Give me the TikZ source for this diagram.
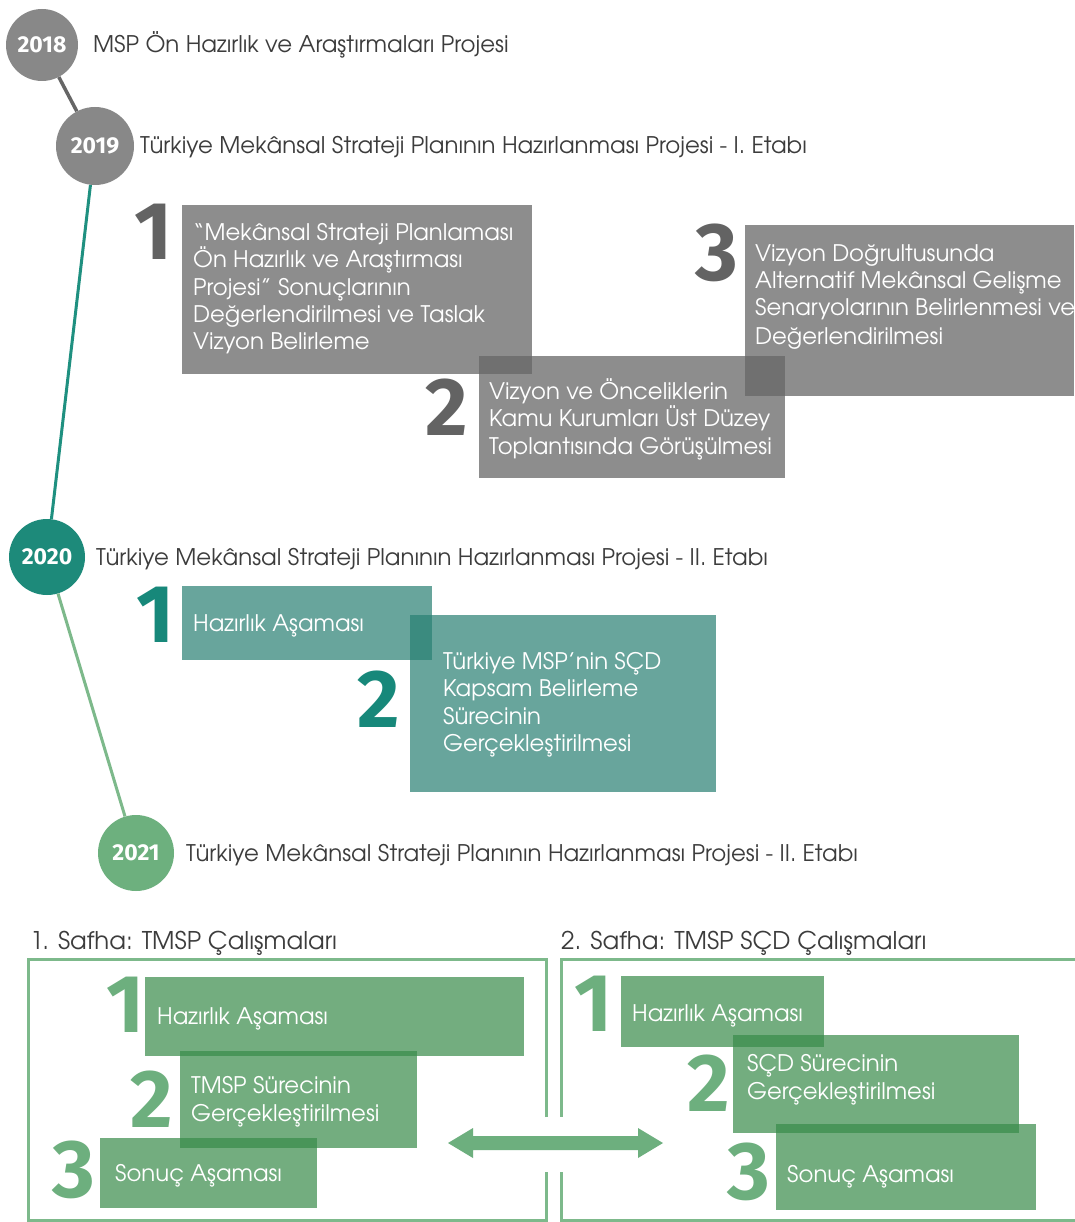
\documentclass[tikz,border=0pt]{standalone}
\usepackage{fontspec}
\setmainfont{TeX Gyre Adventor}
\newfontfamily\numfont{Fira Sans}
\definecolor{headc}{HTML}{3C3C3C}
\definecolor{circgray}{HTML}{888888}
\definecolor{circteal}{HTML}{1D8A7A}
\definecolor{circgreen}{HTML}{6DB07E}
\definecolor{linegray}{HTML}{666666}
\definecolor{lineteal}{HTML}{1F9080}
\definecolor{linegreen}{HTML}{7DB98B}
\definecolor{boxgray}{HTML}{666666}
\definecolor{boxteal}{HTML}{298073}
\definecolor{boxgreen}{HTML}{388B4A}
\definecolor{numgray}{HTML}{636363}
\definecolor{numteal}{HTML}{17887A}
\definecolor{numgreen}{HTML}{6DAF7E}
\definecolor{panelc}{HTML}{7DB98B}
\begin{document}
\begin{tikzpicture}[x=1pt,y=-1pt,
  yearnode/.style={circle, inner sep=0pt, minimum size=76pt, text=white,
    font=\numfont\bfseries\fontsize{23}{23}\selectfont},
  hd/.style={anchor=base west, inner sep=0pt, text=headc, font=\fontsize{22.9}{27}\selectfont},
  ttl/.style={anchor=base west, inner sep=0pt, text=headc, font=\fontsize{24.4}{28}\selectfont},
  bt/.style={anchor=base west, inner sep=0pt, text=white, font=\fontsize{22.8}{27}\selectfont},
  bignum/.style={anchor=north west, inner sep=0pt, font=\numfont\bfseries\fontsize{82}{82}\selectfont},
  gbox/.style={fill=boxgray, fill opacity=0.74},
  tbox/.style={fill=boxteal, fill opacity=0.7},
  grbox/.style={fill=boxgreen, fill opacity=0.7},
  panel/.style={draw=panelc, line width=3pt}
]
\useasboundingbox (0,0) rectangle (1074,1222);
\fill[white] (0,0) rectangle (1074,1222);

% ---------- timeline ----------
\node[yearnode, fill=circgray, minimum size=72pt] (y2018) at (42,45) {2018};
\node[yearnode, fill=circgray, minimum size=78pt] (y2019) at (95,146) {2019};
\node[yearnode, fill=circteal] (y2020) at (47,557) {2020};
\node[yearnode, fill=circgreen] (y2021) at (136,853) {2021};
\draw[linegray, line width=3.5pt] (y2018) -- (y2019);
\draw[lineteal, line width=3pt] (y2019) -- (y2020);
\draw[linegreen, line width=3pt] (y2020) -- (y2021);

\node[hd] (h2018) at (93,53) {MSP Ön Hazırlık ve Araştırmaları Projesi};
\node[hd] (h2019) at (140,154) {Türkiye Mekânsal Strateji Planının Hazırlanması Projesi - I. Etabı};
\node[hd] (h2020) at (96,565) {Türkiye Mekânsal Strateji Planının Hazırlanması Projesi - II. Etabı};
\node[hd] (h2021) at (186,861) {Türkiye Mekânsal Strateji Planının Hazırlanması Projesi - II. Etabı};

% ---------- 2019 boxes ----------
\fill[gbox] (182,205) rectangle (532,374);
\fill[gbox] (479,356) rectangle (785,478);
\fill[gbox] (745,225) rectangle (1074,396);
\node[bignum, text=numgray] (g1) at (134,204) {1};
\node[bignum, text=numgray] (g2) at (425,379) {2};
\node[bignum, text=numgray] (g3) at (695,224) {3};
\node[bt] (a1) at (193,241) {“Mekânsal Strateji Planlaması};
\node[bt] (a2) at (193,268) {Ön Hazırlık ve Araştırması};
\node[bt] (a3) at (193,295) {Projesi” Sonuçlarının};
\node[bt] (a4) at (193,322) {Değerlendirilmesi ve Taslak};
\node[bt] (a5) at (193,349) {Vizyon Belirleme};
\node[bt] (b1) at (489,399) {Vizyon ve Önceliklerin};
\node[bt] (b2) at (489,426) {Kamu Kurumları Üst Düzey};
\node[bt] (b3) at (489,454) {Toplantısında Görüşülmesi};
\node[bt] (c1) at (755,262) {Vizyon Doğrultusunda};
\node[bt] (c2) at (755,289) {Alternatif Mekânsal Gelişme};
\node[bt] (c3) at (755,316) {Senaryolarının Belirlenmesi ve};
\node[bt] (c4) at (755,344) {Değerlendirilmesi};

% ---------- 2020 boxes ----------
\fill[tbox] (182,586) rectangle (432,660);
\fill[tbox] (410,615) rectangle (716,792);
\node[bignum, text=numteal] (t1) at (136,587) {1};
\node[bignum, text=numteal] (t2) at (357,671) {2};
\node[bt] (d1) at (193,631) {Hazırlık Aşaması};
\node[bt] (e1) at (443,669) {Türkiye MSP’nin SÇD};
\node[bt] (e2) at (443,696) {Kapsam Belirleme};
\node[bt] (e3) at (443,724) {Sürecinin};
\node[bt] (e4) at (443,751) {Gerçekleştirilmesi};

% ---------- 2021 panels ----------
\node[ttl] (s1) at (30,949) {1. Safha: TMSP Çalışmaları};
\node[ttl] (s2) at (561,949) {2. Safha: TMSP SÇD Çalışmaları};
\draw[panel] (546,1117) -- (546,959) -- (28,959) -- (28,1220) -- (546,1220) -- (546,1172);
\draw[panel] (1076,959) -- (561,959) -- (561,1117);
\draw[panel] (561,1172) -- (561,1220) -- (1076,1220);

% left panel boxes
\fill[grbox] (145,977) rectangle (524,1056);
\fill[grbox] (180,1051) rectangle (417,1148);
\fill[grbox] (100,1138) rectangle (317,1208);
\node[bignum, text=numgreen] (l1) at (106,977) {1};
\node[bignum, text=numgreen] (l2) at (130,1071) {2};
\node[bignum, text=numgreen] (l3) at (52,1141) {3};
\node[bt] (lt1) at (157,1024) {Hazırlık Aşaması};
\node[bt] (lt2) at (191,1093) {TMSP Sürecinin};
\node[bt] (lt3) at (191,1121) {Gerçekleştirilmesi};
\node[bt] (lt4) at (115,1181) {Sonuç Aşaması};

% right panel boxes
\fill[grbox] (621,976) rectangle (824,1047);
\fill[grbox] (733,1035) rectangle (1019,1133);
\fill[grbox] (776,1124) rectangle (1036,1210);
\node[bignum, text=numgreen] (r1) at (574,976) {1};
\node[bignum, text=numgreen] (r2) at (687,1055) {2};
\node[bignum, text=numgreen] (r3) at (727,1143) {3};
\node[bt] (rt1) at (632,1021) {Hazırlık Aşaması};
\node[bt] (rt2) at (747,1071) {SÇD Sürecinin};
\node[bt] (rt3) at (747,1099) {Gerçekleştirilmesi};
\node[bt] (rt4) at (787,1182) {Sonuç Aşaması};

% double arrow between the phases
\fill[numgreen] (448,1143) -- (473,1128) -- (473,1136) -- (638,1136) -- (638,1128)
  -- (663,1143) -- (638,1158) -- (638,1150) -- (473,1150) -- (473,1158) -- cycle;
\end{tikzpicture}
\end{document}
